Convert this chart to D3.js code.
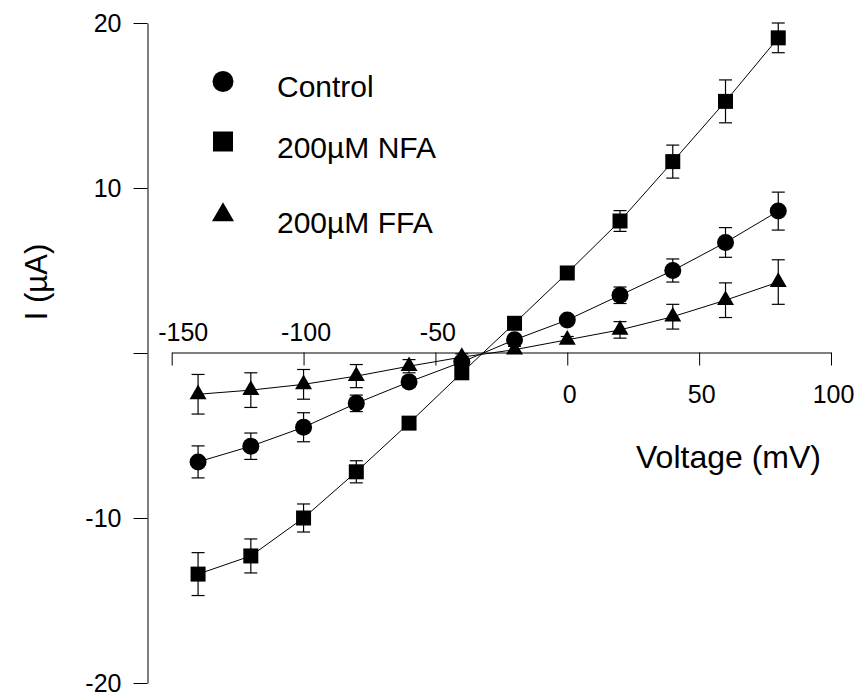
<!DOCTYPE html>
<html>
<head>
<meta charset="utf-8">
<script src="https://cdn.jsdelivr.net/npm/d3@7"></script>
<style>
  html, body { margin: 0; padding: 0; background: #fff; }
  svg { display: block; font-family: "Liberation Sans", Arial, sans-serif; }
</style>
</head>
<body>
<svg id="chart" width="854" height="696"></svg>
<script>
const voltages = [-140, -120, -100, -80, -60, -40, -20, 0, 20, 40, 60, 80];
const control = [-6.6, -5.65, -4.5, -3.05, -1.75, -0.55, 0.8, 2.0, 3.5, 5.0, 6.7, 8.6];
const controlErr = [0.97, 0.8, 0.88, 0.5, 0.3, 0.2, 0.2, 0.2, 0.5, 0.7, 0.9, 1.15];
const nfa = [-13.4, -12.3, -10.0, -7.2, -4.25, -1.2, 1.8, 4.85, 8.0, 11.6, 15.25, 19.1];
const nfaErr = [1.3, 1.03, 0.85, 0.67, 0.3, 0.2, 0.2, 0.2, 0.63, 1.0, 1.3, 0.9];
const ffa = [-2.5, -2.25, -1.9, -1.4, -0.8, -0.25, 0.2, 0.8, 1.4, 2.2, 3.2, 4.3];
const ffaErr = [1.2, 1.05, 0.9, 0.7, 0.4, 0.2, 0.2, 0.2, 0.5, 0.75, 1.05, 1.35];
const seriesNames = ["Control", "200\u00b5M NFA", "200\u00b5M FFA"];
const xTicks = [-150, -100, -50, 0, 50, 100];
const yTicks = [-20, -10, 0, 10, 20];

const svg = d3.select("#chart");
const x = d3.scaleLinear().domain([-150, 100]).range([171.7, 831]);
const y = d3.scaleLinear().domain([-20, 20]).range([683, 23]);

// Y axis
const yAxis = d3.axisLeft(y).tickValues(yTicks).tickSize(14).tickSizeOuter(0).tickPadding(12)
  .tickFormat(d => d === 0 ? "" : String(d));
const gy = svg.append("g").attr("transform", "translate(147.5,0)").call(yAxis);
gy.select(".domain").attr("stroke", "#000").attr("stroke-width", 1);
gy.selectAll(".tick line").attr("stroke", "#000");
gy.selectAll(".tick text").attr("font-size", 25).attr("fill", "#000")
  .attr("font-family", "Liberation Sans, Arial, sans-serif");

// X axis
const xAxis = d3.axisBottom(x).tickValues(xTicks).tickSize(13).tickSizeOuter(0)
  .tickFormat(d => String(d));
const gx = svg.append("g").attr("transform", `translate(0,${y(0) - 0.5})`).call(xAxis);
gx.select(".domain").attr("stroke", "#000").attr("stroke-width", 1);
gx.selectAll(".tick line").attr("stroke", "#000");
gx.selectAll(".tick text")
  .attr("font-size", 25).attr("fill", "#000")
  .attr("font-family", "Liberation Sans, Arial, sans-serif")
  .attr("dy", null)
  .attr("y", d => d < 0 ? -12 : 50)
  .attr("dx", d => d === -150 ? 11 : 2);

// Axis titles
svg.append("text").attr("x", 636).attr("y", 468).attr("font-size", 32)
  .attr("fill", "#000").text("Voltage (mV)");
svg.append("text").attr("transform", "translate(47,282) rotate(-90)")
  .attr("text-anchor", "middle").attr("font-size", 31).attr("fill", "#000").text("I (\u00b5A)");

const series = [
  { vals: control, err: controlErr, sym: d3.symbolCircle, size: 227, lsize: 346 },
  { vals: nfa, err: nfaErr, sym: d3.symbolSquare, size: 225, lsize: 400 },
  { vals: ffa, err: ffaErr, sym: d3.symbolTriangle, size: 125, lsize: 210 }
];

const line = d3.line().x(d => x(d[0])).y(d => y(d[1]));
const capW = 6.5;

series.forEach(s => {
  const pts = voltages.map((v, i) => [v, s.vals[i], s.err[i]]);
  svg.append("path").datum(pts).attr("d", line)
    .attr("fill", "none").attr("stroke", "#000").attr("stroke-width", 1);
  const eb = svg.append("g").attr("stroke", "#000").attr("stroke-width", 1.2);
  pts.forEach(p => {
    const cx = x(p[0]);
    eb.append("line").attr("x1", cx).attr("x2", cx).attr("y1", y(p[1] - p[2])).attr("y2", y(p[1] + p[2]));
    eb.append("line").attr("x1", cx - capW).attr("x2", cx + capW).attr("y1", y(p[1] + p[2])).attr("y2", y(p[1] + p[2]));
    eb.append("line").attr("x1", cx - capW).attr("x2", cx + capW).attr("y1", y(p[1] - p[2])).attr("y2", y(p[1] - p[2]));
  });
});
series.forEach(s => {
  const pts = voltages.map((v, i) => [v, s.vals[i]]);
  svg.append("g").selectAll("path").data(pts).join("path")
    .attr("transform", d => `translate(${x(d[0])},${y(d[1])})`)
    .attr("d", d3.symbol().type(s.sym).size(s.size)).attr("fill", "#000");
});

// Legend
const legendY = [81.5, 141.5, 215];
const legendTextY = [97, 158, 233];
series.forEach((s, i) => {
  svg.append("path").attr("transform", `translate(223,${legendY[i]})`)
    .attr("d", d3.symbol().type(s.sym).size(s.lsize)).attr("fill", "#000");
  svg.append("text").attr("x", 277).attr("y", legendTextY[i]).attr("font-size", 30)
    .attr("fill", "#000").text(seriesNames[i]);
});
</script>
</body>
</html>
